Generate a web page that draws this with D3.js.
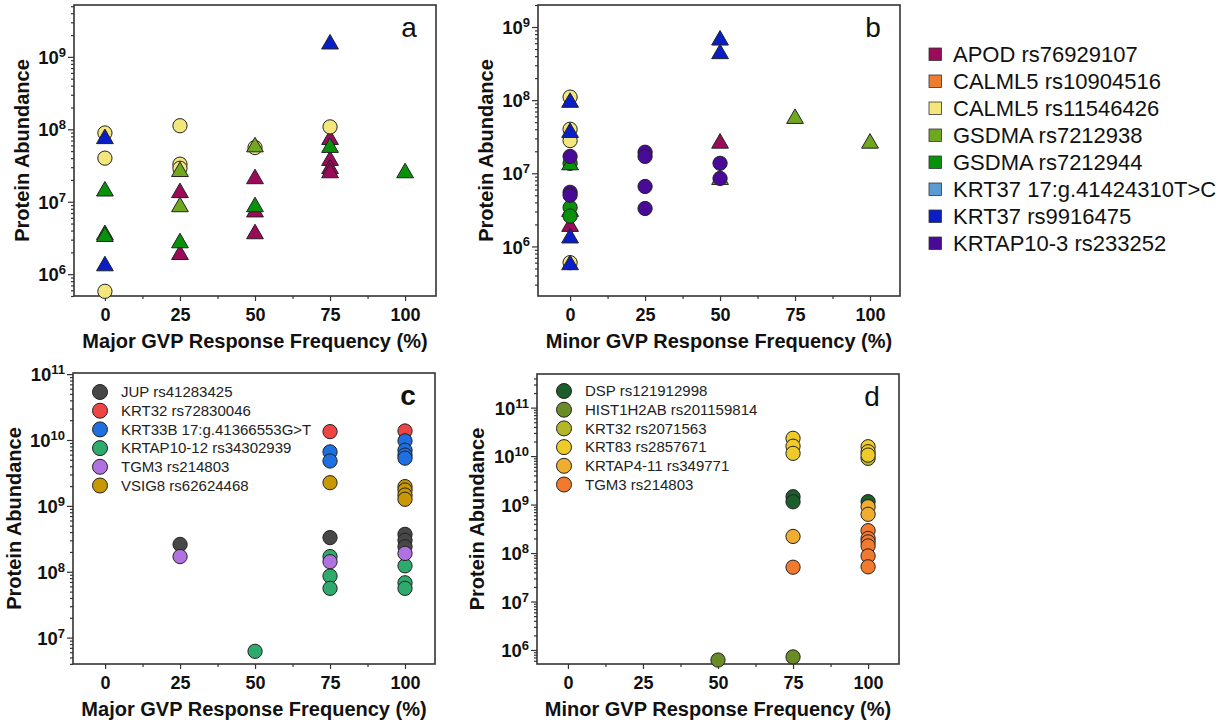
<!DOCTYPE html>
<html>
<head>
<meta charset="utf-8">
<script src="https://cdn.jsdelivr.net/npm/d3@7"></script>
<style>
  body { margin: 0; background: #fff; }
  svg { font-family: "Liberation Sans", Arial, sans-serif; }
</style>
</head>
<body>
<div id="chart"></div>
<script>
// legend / series for panels a and b
const seriesAB = ["APOD rs76929107", "CALML5 rs10904516", "CALML5 rs11546426", "GSDMA rs7212938",
  "GSDMA rs7212944", "KRT37 17:g.41424310T>C", "KRT37 rs9916475", "KRTAP10-3 rs233252"];
const colorsAB = ["#9c0a5a", "#ed7d31", "#f3e67c", "#6fa81e", "#08920a", "#5b9bd5", "#0a1ec8", "#4a0a98"];

// panel a: [series index, frequency, abundance]
const triA = [
  [0, 25, 1.33e7], [0, 25, 1.86e6], [0, 50, 2.07e7], [0, 50, 7.2e6], [0, 50, 3.6e6],
  [0, 75, 7.2e7], [0, 75, 3.7e7], [0, 75, 2.85e7], [0, 75, 2.5e7],
  [3, 25, 2.6e7], [3, 25, 8.5e6], [3, 50, 5.7e7],
  [4, 0, 1.4e7], [4, 0, 3.5e6], [4, 0, 3.3e6], [4, 25, 2.7e6], [4, 50, 8.5e6], [4, 75, 5.6e7], [4, 100, 2.5e7],
  [6, 0, 7.4e7], [6, 0, 1.3e6], [6, 75, 1.5e9]
];
const circA = [
  [2, 0, 8.9e7], [2, 0, 4.0e7], [2, 0, 5.8e5], [2, 25, 1.12e8], [2, 25, 3.3e7], [2, 25, 2.9e7],
  [2, 50, 5.6e7], [2, 75, 1.08e8]
];

// panel b
const triB = [
  [0, 0, 1.87e6], [0, 50, 2.57e7],
  [3, 0, 3.0e6], [3, 50, 8.2e6], [3, 75, 5.6e7], [3, 100, 2.57e7],
  [4, 0, 1.3e7],
  [6, 0, 9.3e7], [6, 0, 3.6e7], [6, 0, 1.3e6], [6, 0, 5.6e5], [6, 50, 6.6e8], [6, 50, 4.3e8]
];
const circB = [
  [2, 0, 1.1e8], [2, 0, 4.0e7], [2, 0, 2.8e7], [2, 0, 6.0e5],
  [4, 0, 1.37e7], [4, 0, 3.4e6], [4, 0, 2.6e6],
  [7, 0, 1.7e7], [7, 0, 5.5e6], [7, 0, 5.0e6], [7, 25, 1.94e7], [7, 25, 1.7e7], [7, 25, 6.6e6], [7, 25, 3.3e6],
  [7, 50, 1.37e7], [7, 50, 8.5e6]
];

// panel c
const seriesC = ["JUP rs41283425", "KRT32 rs72830046", "KRT33B 17:g.41366553G>T", "KRTAP10-12 rs34302939",
  "TGM3 rs214803", "VSIG8 rs62624468"];
const colorsC = ["#474747", "#ef4444", "#1e6fe0", "#2eaa6c", "#b072e0", "#c99700"];
const circC = [
  [0, 25, 2.6e8], [0, 75, 3.3e8], [0, 100, 3.7e8], [0, 100, 3.0e8], [0, 100, 2.4e8],
  [1, 75, 1.34e10], [1, 100, 1.37e10],
  [2, 75, 6.6e9], [2, 75, 4.8e9], [2, 100, 9.7e9], [2, 100, 7.0e9], [2, 100, 5.9e9], [2, 100, 5.3e9],
  [3, 50, 6.2e6], [3, 75, 1.7e8], [3, 75, 8.6e7], [3, 75, 5.6e7], [3, 100, 1.23e8], [3, 100, 6.8e7], [3, 100, 5.6e7],
  [4, 25, 1.7e8], [4, 75, 1.42e8], [4, 100, 1.9e8],
  [5, 75, 2.25e9], [5, 100, 1.96e9], [5, 100, 1.74e9], [5, 100, 1.46e9], [5, 100, 1.26e9]
];

// panel d
const seriesD = ["DSP rs121912998", "HIST1H2AB rs201159814", "KRT32 rs2071563", "KRT83 rs2857671",
  "KRTAP4-11 rs349771", "TGM3 rs214803"];
const colorsD = ["#1b5e2c", "#6a8c26", "#b4b52a", "#efcb2a", "#f0ae30", "#f27a2e"];
const circD = [
  [0, 75, 1.45e9], [0, 75, 1.14e9], [0, 100, 1.15e9],
  [1, 50, 6.2e5], [1, 75, 7.2e5],
  [2, 100, 9.0e9],
  [3, 75, 2.33e10], [3, 75, 1.6e10], [3, 75, 1.14e10], [3, 100, 1.56e10], [3, 100, 1.23e10], [3, 100, 1.05e10],
  [4, 75, 2.2e8], [4, 100, 9.0e8], [4, 100, 6.3e8],
  [5, 75, 5.1e7], [5, 100, 2.9e8], [5, 100, 2.0e8], [5, 100, 1.7e8], [5, 100, 1.4e8], [5, 100, 8.7e7], [5, 100, 5.2e7]
];

const xTicks = [0, 25, 50, 75, 100];

const svg = d3.select("#chart").append("svg")
  .attr("width", 1231)
  .attr("height", 725);

function drawPanel(p) {
  const x = d3.scaleLinear().domain(p.xDomain).range([p.left, p.right]);
  const y = d3.scaleLog().domain(p.yDomain).range([p.bottom, p.top]);
  const g = svg.append("g");

  // decade and minor y ticks
  const lo = Math.floor(Math.log10(p.yDomain[0])), hi = Math.ceil(Math.log10(p.yDomain[1]));
  const minors = [], majors = [];
  for (let e = lo; e <= hi; e++) {
    for (let m = 1; m < 10; m++) {
      const v = m * Math.pow(10, e);
      if (v < p.yDomain[0] || v > p.yDomain[1]) continue;
      if (m === 1) majors.push(v); else minors.push(v);
    }
  }
  g.append("g").attr("transform", `translate(${p.left},0)`)
    .call(d3.axisLeft(y).tickValues(minors).tickSize(3).tickFormat(""))
    .call(a => a.select(".domain").remove());
  const ya = g.append("g").attr("transform", `translate(${p.left},0)`)
    .call(d3.axisLeft(y).tickValues(majors).tickSize(6).tickFormat(""))
    .call(a => a.select(".domain").remove());
  ya.selectAll(".tick").append("text")
    .attr("x", -8).attr("dy", "0.36em")
    .attr("text-anchor", "end")
    .attr("fill", "#111")
    .style("font-size", "18.5px").style("font-weight", "bold")
    .each(function(d) {
      const t = d3.select(this);
      t.append("tspan").text("10");
      t.append("tspan").attr("dy", "-0.55em").style("font-size", "13px").text(Math.round(Math.log10(d)));
    });

  // x ticks
  g.append("g").attr("transform", `translate(0,${p.bottom})`)
    .call(d3.axisBottom(x).tickValues([12.5, 37.5, 62.5, 87.5]).tickSize(3).tickFormat(""))
    .call(a => a.select(".domain").remove());
  g.append("g").attr("transform", `translate(0,${p.bottom})`)
    .call(d3.axisBottom(x).tickValues(xTicks).tickSize(5).tickPadding(7))
    .call(a => a.select(".domain").remove())
    .selectAll("text")
    .attr("fill", "#111")
    .style("font-size", "18px").style("font-weight", "bold")
    .style("font-family", "Liberation Sans, Arial, sans-serif");

  g.selectAll(".tick line").attr("stroke", "#333").attr("stroke-width", 1.2);

  // frame
  g.append("rect")
    .attr("x", p.left).attr("y", p.top)
    .attr("width", p.right - p.left).attr("height", p.bottom - p.top)
    .attr("fill", "none").attr("stroke", "#333").attr("stroke-width", 1.6);

  // titles
  g.append("text")
    .attr("x", (p.left + p.right) / 2).attr("y", p.bottom + 52)
    .attr("text-anchor", "middle")
    .style("font-size", "20px").style("font-weight", "bold").attr("fill", "#111")
    .text(p.xTitle);
  g.append("text")
    .attr("transform", `translate(${p.left - p.yTitleOff},${(p.top + p.bottom) / 2}) rotate(-90)`)
    .attr("text-anchor", "middle")
    .attr("dy", "0.35em")
    .style("font-size", "20px").style("font-weight", "bold").attr("fill", "#111")
    .text("Protein Abundance");
  g.append("text")
    .attr("x", p.right - 27).attr("y", p.top + 32)
    .attr("text-anchor", "middle")
    .style("font-size", "28px").style("font-weight", p.letterBold ? "bold" : "normal").attr("fill", "#111")
    .text(p.letter);

  // points, drawn in legend order
  const pts = [];
  (p.circles || []).forEach(d => pts.push({ s: d[0], x: d[1], v: d[2], shape: "c" }));
  (p.triangles || []).forEach(d => pts.push({ s: d[0], x: d[1], v: d[2], shape: "t" }));
  pts.sort((a, b) => a.s - b.s);
  const tri = d3.symbol().type(d3.symbolTriangle).size(122);
  const circ = d3.symbol().type(d3.symbolCircle).size(160);
  g.append("g").selectAll("path")
    .data(pts)
    .join("path")
    .attr("transform", d => `translate(${x(d.x)},${y(d.v)})`)
    .attr("d", d => d.shape === "t" ? tri() : circ())
    .attr("fill", d => p.colors[d.s])
    .attr("stroke", "#222")
    .attr("stroke-width", 1);

  // inner legend
  if (p.legend) {
    const lg = g.append("g").selectAll("g")
      .data(p.legend)
      .join("g")
      .attr("transform", (d, i) => `translate(${p.legendX},${p.legendY + i * 18.7})`);
    lg.append("circle").attr("r", 7.5)
      .attr("fill", (d, i) => p.colors[i]).attr("stroke", "#222").attr("stroke-width", 1);
    lg.append("text").attr("x", 21).attr("dy", "0.35em")
      .style("font-size", "15px").attr("fill", "#222")
      .text(d => d);
  }
}

drawPanel({ left: 74, right: 436, top: 5, bottom: 296, xDomain: [-10.3, 110.3], yDomain: [5e5, 5.2e9],
  xTitle: "Major GVP Response Frequency (%)", letter: "a", yTitleOff: 52,
  colors: colorsAB, triangles: triA, circles: circA });
drawPanel({ left: 538, right: 900, top: 5, bottom: 296, xDomain: [-10.7, 110], yDomain: [2.1e5, 2e9],
  xTitle: "Minor GVP Response Frequency (%)", letter: "b", yTitleOff: 52,
  colors: colorsAB, triangles: triB, circles: circB });
drawPanel({ left: 73, right: 435, top: 373, bottom: 664, xDomain: [-10.7, 110], yDomain: [3.98e6, 1.04e11],
  xTitle: "Major GVP Response Frequency (%)", letter: "c", letterBold: true, yTitleOff: 59,
  colors: colorsC, circles: circC, legend: seriesC, legendX: 100, legendY: 392 });
drawPanel({ left: 537, right: 899, top: 374, bottom: 664, xDomain: [-10.3, 110.3], yDomain: [5.14e5, 4.94e11],
  xTitle: "Minor GVP Response Frequency (%)", letter: "d", yTitleOff: 60,
  colors: colorsD, circles: circD, legend: seriesD, legendX: 564, legendY: 391 });

// outer legend for a and b
const leg = svg.append("g").selectAll("g")
  .data(seriesAB)
  .join("g")
  .attr("transform", (d, i) => `translate(929,${54.5 + i * 27})`);
leg.append("rect").attr("x", 0).attr("y", -6.5).attr("width", 12.5).attr("height", 12.5)
  .attr("fill", (d, i) => colorsAB[i]).attr("stroke", "#333").attr("stroke-width", 0.8);
leg.append("text").attr("x", 24).attr("dy", "0.36em")
  .style("font-size", "22px").attr("fill", "#111")
  .text(d => d);
</script>
</body>
</html>
